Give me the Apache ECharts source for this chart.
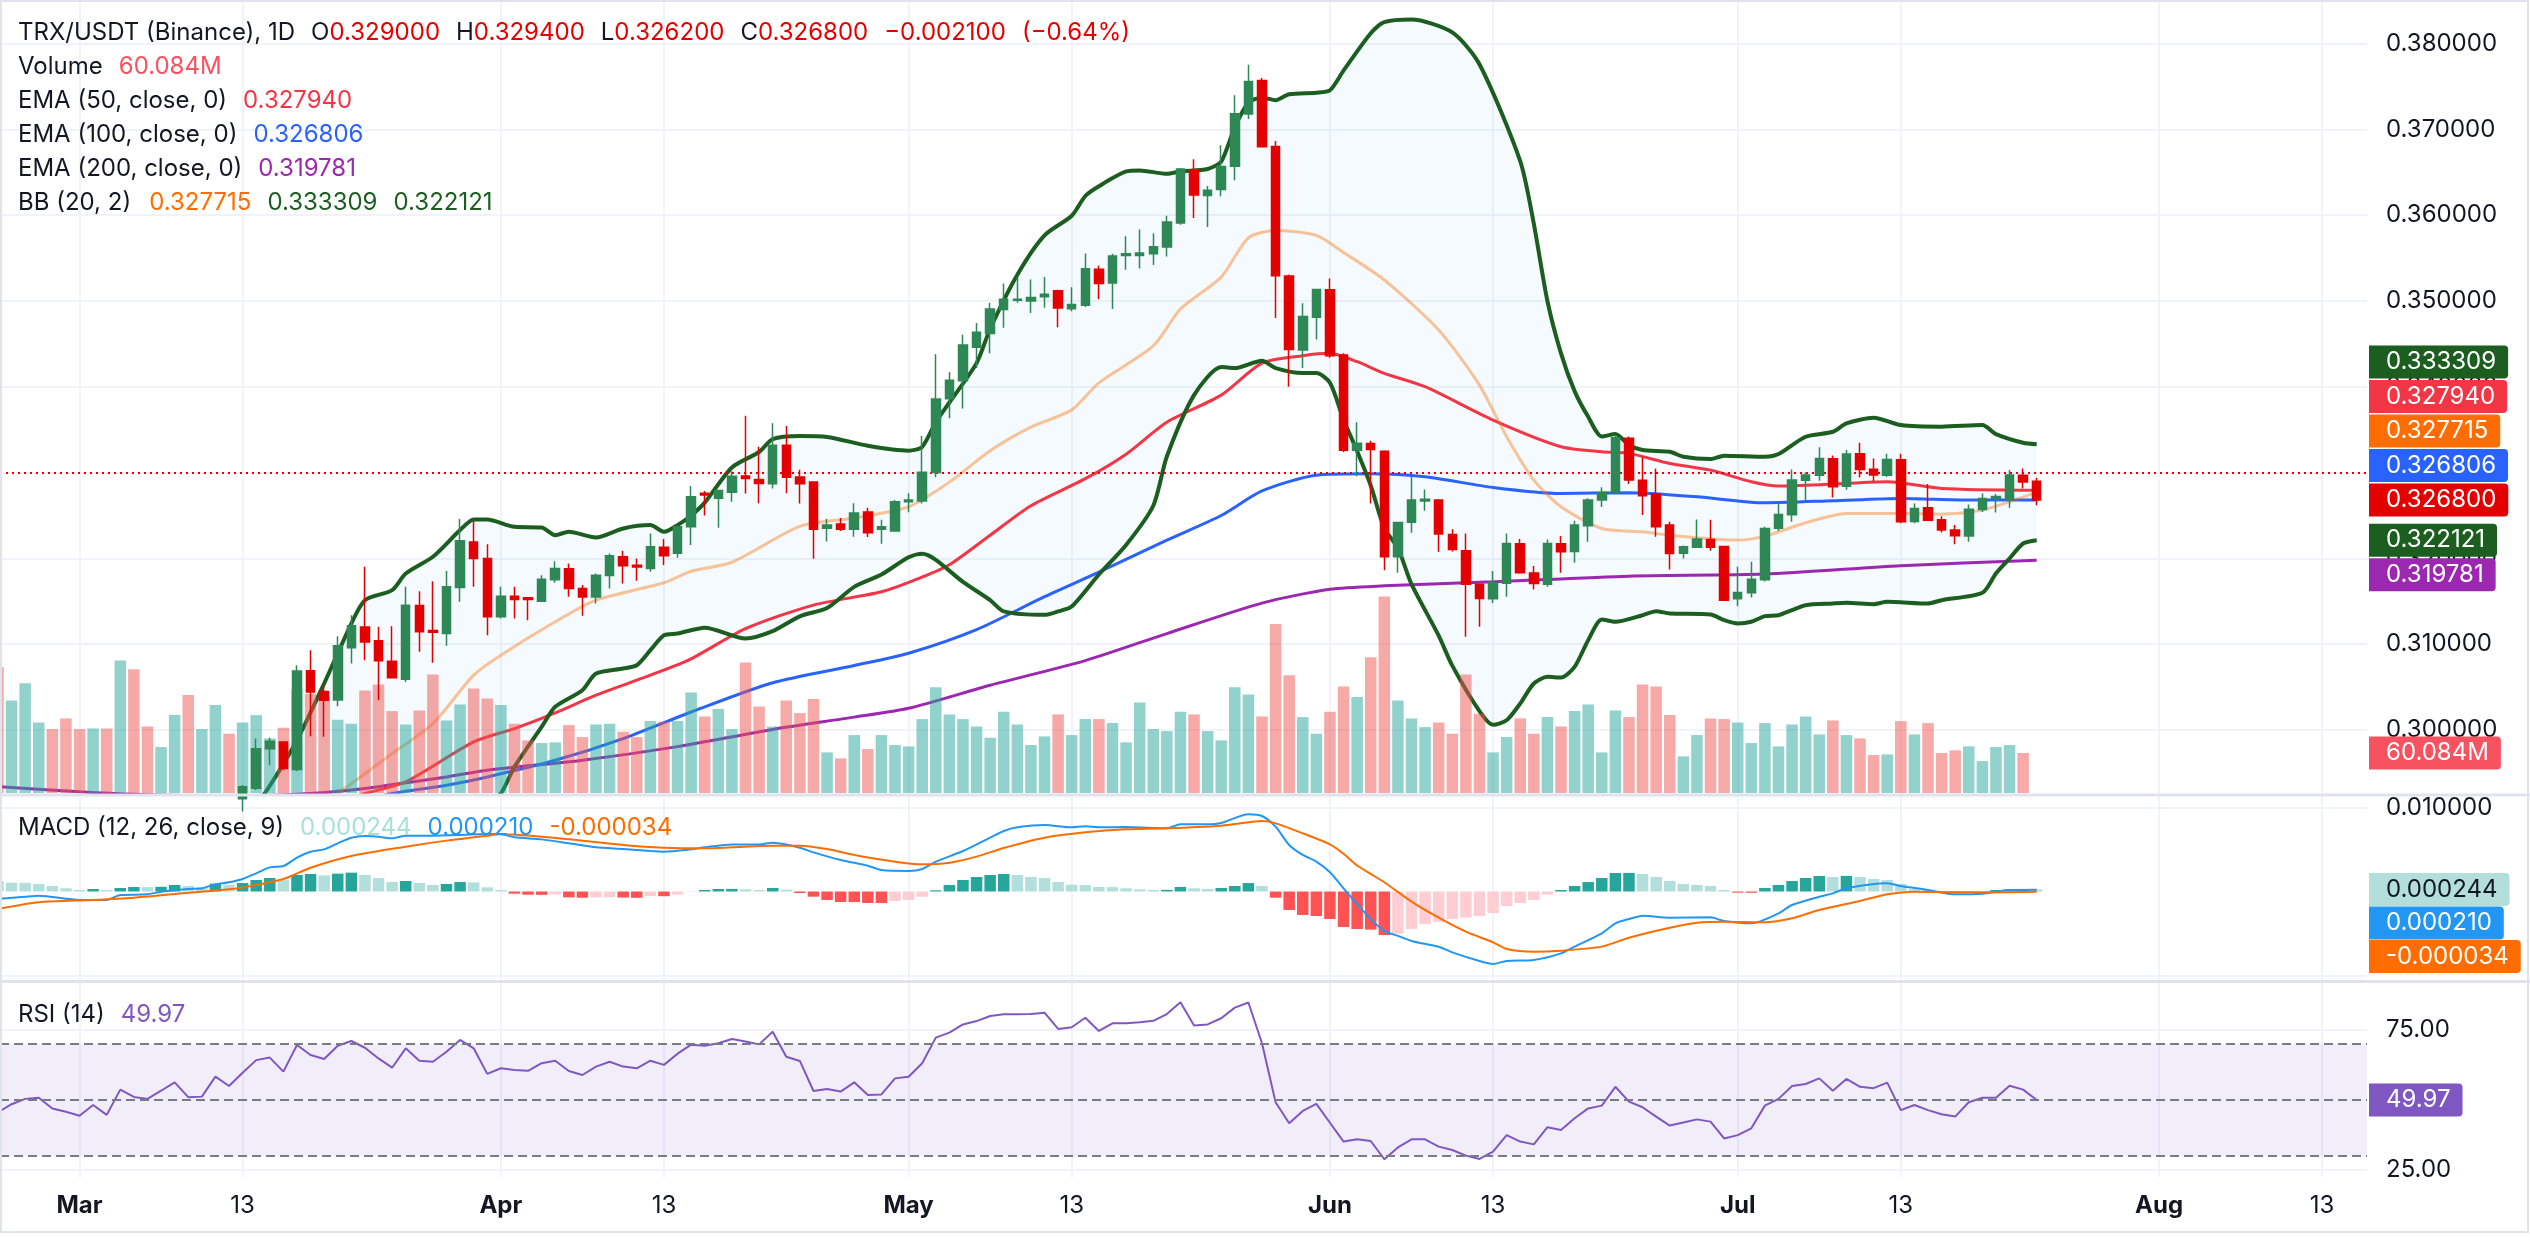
<!DOCTYPE html>
<html>
<head>
<meta charset="utf-8">
<title>TRX/USDT (Binance), 1D</title>
<script src="https://cdn.jsdelivr.net/npm/echarts@6/dist/echarts.min.js"></script>
<style>
html, body { margin: 0; background: #fff; }
#main { width: 2530px; height: 1253px; }
</style>
</head>
<body>
<div id="main"></div>
<script>
// day 0 = 1 Mar, data runs from 23 Feb (day -6) to 23 Jul (day 144)
var dayFirst = -6;
// candles before 13 Mar sit below the visible price range
var candleFirst = 12;

var opens = [
  .2920,.2932,.2978,.2986,.2954,.3069,.3045,.3035,.30958,.3120,
  .3104,.3080,.30592,.3145,.3116,.31125,.3166,.3219,.3200,.3132,
  .3156,.3154,.3150,.3175,.3188,.3165,.3155,.3180,.3202,.3192,
  .31883,.3213,.3206,.3237,.3276,.3270,.3277,.3296,.3292,.3287,
  .3332,.3295,.3289,.3235,.3240,.3234,.3254,.3234,.3232,.3266,
  .3267,.3300,.3386,.3407,.3446,.3462,.3490,.3501,.3500,.3505,
  .3512,.3491,.3495,.3537,.3521,.3553,.3553,.3555,.3563,.3591,
  .3653,.3623,.3630,.3657,.3718,.3757,.3680,.3529,.3443,.3481,
  .3513,.3437,.3326,.3334,.3325,.3202,.3242,.3267,.3268,.3228,
  .3209,.3170,.3153,.3171,.3217,.3183,.3170,.3217,.3208,.3238,
  .3268,.3277,.3340,.3291,.3275,.3239,.3206,.3213,.3222,.3214,
  .3153,.3160,.3175,.3235,.3251,.3291,.3297,.3316,.3284,.3322,
  .3304,.3297,.3315,.3243,.3259,.3245,.3233,.3226,.3257,.3270,
  .3268,.3297,.3290
];
var highs = [
  .2936,.2990,.2991,.2987,.30755,.3093,.30534,.31094,.31338,.31902,
  .31202,.3121,.31669,.31618,.31735,.31852,.32458,.32438,.32166,.31669,
  .3167,.3155,.31805,.31968,.3194,.3169,.31824,.32058,.32089,.31999,
  .32291,.32225,.3237,.32843,.32786,.3279,.33015,.33662,.33301,.33576,
  .33542,.33032,.3290,.32459,.3247,.32642,.3259,.3245,.3268,.3276,
  .33427,.34379,.34172,.34608,.34745,.3498,.35204,.35278,.3525,.3528,
  .3513,.3516,.35553,.3541,.3555,.35754,.35834,.3579,.35995,.3655,
  .36653,.3634,.36814,.37398,.37754,.3760,.36865,.3531,.34975,.3514,
  .35261,.3439,.33588,.3337,.3326,.3242,.32959,.32804,.3269,.32341,
  .32291,.3170,.31852,.32291,.32225,.3191,.3222,.3226,.32438,.3270,
  .3283,.33437,.3342,.33185,.33049,.32427,.3215,.32454,.3245,.3214,
  .31902,.3196,.3237,.32648,.33037,.3300,.33294,.3320,.33263,.33348,
  .33165,.3322,.3322,.3264,.32866,.3249,.32388,.32629,.32757,.3275,
  .33029,.33049,.3294
];
var lows = [
  .2905,.2930,.2959,.2953,.2952,.29927,.2992,.30277,.30775,.30814,
  .30347,.3060,.3056,.30911,.30783,.30981,.31494,.3167,.31105,.3130,
  .3130,.3128,.3150,.31716,.31552,.31331,.31474,.31649,.31708,.31739,
  .31844,.31922,.32007,.32155,.32499,.32356,.3266,.32757,.32643,.32814,
  .3276,.3264,.31995,.32196,.3232,.32253,.3225,.3217,.3232,.32539,
  .3264,.32946,.33634,.33748,.34218,.3439,.34688,.3498,.3486,.3492,
  .34694,.3488,.3493,.3502,.34906,.35364,.3538,.3542,.3552,.3589,
  .35966,.35863,.3622,.36407,.3712,.3680,.34803,.3400,.34218,.3455,
  .3434,.3324,.32958,.32641,.31863,.31832,.32299,.32555,.32077,.3208,
  .31086,.31202,.3148,.31552,.3182,.31638,.3167,.31832,.31949,.32194,
  .3260,.3276,.32866,.32505,.32252,.31871,.31999,.3212,.3209,.3151,
  .31443,.31544,.3173,.3232,.32427,.3268,.32905,.32711,.3280,.32944,
  .3290,.3295,.3241,.3241,.3244,.32302,.32166,.32194,.3254,.32536,
  .3259,.32816,.3262
];
var closes = [
  .2934,.2978,.2987,.2955,.30689,.30444,.30347,.30981,.31214,.31027,
  .30806,.30608,.31455,.31144,.3114,.31669,.32205,.31999,.31319,.3156,
  .3152,.3152,.31758,.31883,.31649,.3155,.31805,.3203,.31914,.3190,
  .32135,.3203,.32368,.32718,.3274,.3279,.32958,.3293,.32872,.33319,
  .32946,.3287,.32339,.3239,.3234,.32528,.32299,.3237,.3266,.3268,
  .33003,.33857,.34075,.34488,.34637,.34906,.3502,.3502,.3504,.3508,
  .34917,.3496,.35376,.35204,.35525,.3555,.3556,.35633,.3592,.36539,
  .36235,.3629,.36567,.37181,.37559,.36797,.35295,.34436,.3482,.35135,
  .34361,.33261,.33341,.3327,.32019,.32419,.3268,.3269,.32283,.32104,
  .3170,.31533,.31719,.32174,.31832,.31708,.32174,.32077,.32388,.3268,
  .32769,.33406,.32913,.3273,.32368,.32058,.32135,.32225,.3213,.31513,
  .31603,.31758,.32349,.32512,.32913,.32971,.33165,.32835,.33216,.33037,
  .32971,.33154,.32427,.32582,.32446,.3233,.32264,.32574,.32699,.3272,
  .32971,.3289,.3268
];

// volume in millions, from day -6 (the bars stop one day before the last candle)
var volumes = [
  189,139,165,106,96,112,96,97,97,199,
  186,100,69,117,147,96,132,89,106,117,
  82,98,155,149,144,110,104,154,163,123,
  103,124,178,109,133,157,142,132,104,79,
  75,76,102,84,103,104,92,84,108,107,
  108,151,115,126,96,196,130,100,139,120,
  141,61,52,87,66,87,72,70,111,159,
  118,111,100,83,122,103,72,85,118,87,
  111,111,105,76,136,96,93,122,118,93,
  79,159,148,115,254,177,114,89,122,160,
  144,204,295,139,112,99,106,89,178,119,
  61,84,112,89,114,100,123,133,61,124,
  114,163,160,117,55,87,112,111,106,75,
  105,70,103,115,88,109,87,82,57,58,
  108,88,105,60,64,70,48,69,72,60.084
];
// up/down colour of the volume bars whose candles are off screen (days -6..11)
var hiddenUp = [0,1,1,1,0,0,0,1,0,1,0,0,1,1,0,1,1,0];

var macdHist = [
  0.00125,0.00105,0.00104,0.0009,0.00066,0.00038,0.00018,0.0003,0.00018,0.00042,
  0.00054,0.00052,0.00056,0.00078,0.00066,0.0005,0.00093,0.00082,0.00101,0.00137,
  0.00161,0.00137,0.00197,0.00209,0.00193,0.00213,0.00225,0.00197,0.00161,0.00113,
  0.00125,0.00101,0.00078,0.0009,0.00113,0.00109,0.0005,0.00018,-0.00026,-0.00038,
  -0.0004,-0.00036,-0.0007,-0.00074,-0.0007,-0.00068,-0.00072,-0.00075,-0.00054,-0.00056,
  -0.00038,-0.00004,0.00018,0.0003,0.00031,0.00026,0.00018,0.00042,0.00022,-0.00018,
  -0.00062,-0.00101,-0.00125,-0.00126,-0.00137,-0.00138,-0.00113,-0.00101,-0.00062,0.00014,
  0.00078,0.00137,0.00173,0.00197,0.00209,0.00197,0.00173,0.00161,0.00113,0.00082,
  0.00077,0.00054,0.00052,0.00038,0.00026,0.00018,0.0002,0.00054,0.00038,0.0003,
  0.00042,0.00066,0.00101,0.00066,-0.00074,-0.00221,-0.0028,-0.00292,-0.00328,-0.00424,
  -0.00447,-0.00455,-0.00519,-0.00503,-0.00447,-0.00388,-0.00364,-0.00328,-0.00312,-0.00292,
  -0.00257,-0.00173,-0.00137,-0.00101,-0.00038,0.00018,0.00066,0.00113,0.00161,0.00221,
  0.00222,0.00209,0.00173,0.00125,0.0009,0.00078,0.00066,0.00018,-0.00014,-0.00015,
  0.00042,0.00078,0.00125,0.00161,0.00185,0.00173,0.00186,0.00173,0.00149,0.00137,
  0.0009,0.0003,0.00018,-0.0001,-0.00018,-0.0001,-0.00002,0.00018,0.00026,0.00028,
  0.000244
];

var rsi = [
  45.6,48.5,50.4,50.8,47.0,45.8,44.4,48.2,44.7,53.7,
  51.1,50.4,53.3,56.3,51.0,51.2,58.3,55.0,59.7,64.2,
  65.1,60.1,69.6,66.0,64.6,69.3,71.0,68.6,64.8,61.5,
  68.4,64.0,63.6,67.2,71.4,68.4,59.3,61.3,60.7,60.4,
  63.1,64.0,60.3,58.9,61.9,63.6,61.9,61.3,64.0,62.5,
  66.5,69.7,69.3,70.2,71.7,70.8,69.8,74.3,65.4,63.9,
  53.2,53.9,53.0,56.3,51.8,52.0,57.7,58.3,63.1,72.2,
  74.0,76.9,78.1,79.9,80.5,80.5,80.6,81.1,75.3,75.9,
  79.3,74.6,77.3,77.3,77.7,78.2,80.6,84.8,76.5,76.9,
  79.1,82.9,84.7,70.2,49.2,41.7,46.1,48.6,41.9,35.2,
  36.0,35.4,28.9,33.1,36.0,36.0,33.4,32.2,30.2,29.0,
  31.6,37.5,35.2,34.2,40.3,39.3,43.5,47.0,48.0,54.7,
  49.4,47.4,44.1,40.9,42.0,43.1,42.3,36.3,37.5,39.9,
  48.0,50.4,55.0,55.7,57.7,53.3,57.5,54.7,54.2,56.2,
  46.4,48.2,46.4,44.9,44.1,49.2,50.8,50.8,55.1,53.7,
  49.97
];

// indicator lines as [day, value]
var ema50 = [[19,0.2915],[21,0.2926],[24,0.29395],[29,0.29861],[32,0.30017],[35,0.302],[38,0.30406],[42,0.30639],[45,0.3083],[49,0.31181],[54,0.31456],[59,0.31611],[62,0.31783],[64,0.31926],[67,0.3227],[70,0.32614],[74,0.32929],[77,0.33215],[80,0.33588],[84,0.33903],[87,0.34276],[90,0.34362],[92,0.3439],[94,0.34293],[96,0.34157],[99,0.34001],[104,0.33612],[109,0.33301],[112,0.33243],[114,0.33224],[117,0.33107],[120,0.33029],[123,0.32893],[125,0.32843],[129,0.32866],[133,0.32893],[137,0.32816],[144,0.32794]];
var ema100 = [[21,0.2918],[23,0.2926],[27,0.29356],[30,0.29453],[35,0.29647],[40,0.299],[45,0.3021],[51,0.30551],[57,0.30752],[61,0.30895],[66,0.3117],[71,0.31554],[75,0.3184],[80,0.32213],[84,0.325],[87,0.32786],[91,0.32969],[95,0.32986],[99,0.32952],[104,0.32827],[109,0.32757],[114,0.32765],[119,0.32718],[124,0.32648],[129,0.32672],[134,0.32699],[139,0.3268],[144,0.326806]];
var ema200 = [[-6,0.2934],[0,0.2928],[4,0.2925],[10,0.2923],[16,0.2925],[20,0.293],[27,0.29453],[30,0.29531],[37,0.29647],[44,0.29806],[51,0.30007],[57,0.3015],[61,0.30253],[67,0.30522],[74,0.30809],[80,0.31124],[87,0.31479],[92,0.3164],[96,0.3168],[104,0.31727],[114,0.31793],[124,0.31817],[134,0.31914],[144,0.319781]];
var bbBasis = [[17,0.2905],[19,0.2926],[23,0.29725],[26,0.30075],[29,0.30639],[31,0.30872],[35,0.31261],[38,0.31513],[43,0.31716],[45,0.3185],[48,0.31955],[53,0.32373],[57,0.32471],[61,0.32602],[64,0.32889],[67,0.33256],[70,0.33531],[73,0.33731],[75,0.34046],[79,0.34476],[81,0.34906],[84,0.35278],[86,0.35737],[88,0.35823],[91,0.35765],[93,0.35565],[96,0.35245],[100,0.34662],[103,0.3402],[105,0.33418],[107,0.32913],[109,0.32602],[112,0.32349],[115,0.3231],[117,0.32271],[122,0.32213],[124,0.3226],[127,0.32415],[130,0.32524],[134,0.32524],[137,0.32516],[140,0.32563],[144,0.327715]];
var bbUpper = [[12,0.289],[14,0.2935],[16,0.29881],[18,0.30542],[20,0.31241],[21,0.31513],[23,0.3163],[24,0.31824],[26,0.32019],[28,0.3233],[29,0.32454],[30,0.32454],[32,0.32368],[34,0.32361],[35,0.32271],[36,0.3231],[38,0.32244],[40,0.32349],[42,0.32388],[43,0.3231],[44,0.32388],[45,0.325],[46,0.3265],[48,0.3306],[50,0.3324],[51,0.3339],[53,0.33427],[55,0.33416],[58,0.33313],[61,0.33256],[62,0.33301],[63,0.33588],[64,0.33817],[66,0.34276],[67,0.34677],[69,0.35307],[71,0.35765],[73,0.35994],[74,0.36224],[75,0.36338],[77,0.3651],[78,0.36522],[80,0.36482],[81,0.3651],[83,0.36539],[84,0.36625],[85,0.37026],[86,0.37312],[87,0.3737],[88,0.37341],[89,0.3741],[91,0.37427],[92,0.37456],[93,0.37685],[95,0.3812],[96,0.3825],[98,0.3828],[101,0.3813],[103,0.3776],[106,0.3663],[107,0.359],[108,0.35],[109,0.3439],[110,0.3395],[111,0.3365],[112,0.3342],[113,0.33449],[114,0.33321],[115,0.33263],[117,0.33243],[118,0.33185],[120,0.33158],[121,0.33197],[124,0.33185],[125,0.33216],[127,0.33418],[129,0.33476],[130,0.33573],[132,0.3364],[134,0.33554],[137,0.33535],[140,0.33554],[141,0.33449],[143,0.33348],[144,0.333309]];
var bbLower = [[30,0.2915],[31,0.2926],[32,0.2957],[34,0.30036],[35,0.3027],[37,0.30464],[38,0.30658],[40,0.30717],[41,0.30755],[42,0.3093],[43,0.31105],[44,0.31124],[46,0.31193],[49,0.31067],[51,0.31153],[53,0.31325],[55,0.31422],[57,0.31668],[59,0.31812],[61,0.32013],[62,0.32053],[63,0.31983],[65,0.31726],[67,0.31514],[68,0.31382],[71,0.31342],[72,0.31382],[73,0.31439],[75,0.31812],[77,0.32156],[79,0.32614],[80,0.33187],[82,0.33903],[84,0.3423],[85,0.34218],[87,0.34304],[88,0.34218],[90,0.3416],[91,0.3416],[92,0.34046],[93,0.33617],[94,0.3325],[95,0.3285],[96,0.3235],[97,0.3212],[98,0.317],[100,0.311],[101,0.3075],[103,0.3022],[104,0.3006],[105,0.30114],[106,0.30309],[107,0.30542],[108,0.3062],[109,0.30612],[110,0.30736],[111,0.31047],[112,0.31288],[113,0.31261],[115,0.31338],[116,0.31385],[117,0.31358],[120,0.31346],[121,0.3128],[122,0.31241],[123,0.31261],[124,0.31327],[125,0.31338],[126,0.31397],[127,0.31455],[129,0.31474],[130,0.31482],[132,0.31467],[133,0.31494],[136,0.31474],[137,0.31513],[140,0.31599],[141,0.31824],[142,0.31999],[143,0.32174],[144,0.322121]];
var macdLine = [[-6,-0.0009],[-4,-0.00062],[-3,-0.0005],[0,-0.00101],[2,-0.001],[3,-0.00042],[5,-0.00034],[6,-0.00002],[8,0.0003],[9,0.00038],[10,0.00086],[11,0.0011],[12,0.00149],[13,0.00217],[14,0.00288],[15,0.00304],[16,0.00404],[17,0.00475],[18,0.00503],[19,0.00575],[20,0.00642],[21,0.00662],[22,0.00654],[23,0.00634],[24,0.00666],[26,0.00666],[28,0.00674],[30,0.00686],[31,0.00686],[32,0.00646],[34,0.00622],[36,0.00575],[38,0.00527],[40,0.00507],[42,0.00483],[43,0.00475],[45,0.00503],[46,0.00527],[48,0.00562],[50,0.00562],[51,0.00583],[52,0.00562],[53,0.00523],[54,0.00467],[56,0.00376],[58,0.00308],[59,0.00256],[61,0.00245],[62,0.00268],[63,0.00356],[65,0.00483],[67,0.00642],[68,0.00722],[69,0.00766],[71,0.00794],[73,0.00766],[74,0.00778],[75,0.00766],[77,0.0077],[80,0.00754],[81,0.00802],[83,0.00802],[84,0.00817],[86,0.00921],[87,0.00901],[88,0.00774],[89,0.00555],[90,0.00436],[91,0.00356],[92,0.00229],[93,0.00038],[94,-0.0015],[95,-0.0033],[96,-0.0047],[97,-0.0053],[98,-0.0059],[100,-0.0066],[101,-0.00726],[103,-0.00829],[104,-0.00865],[105,-0.00829],[107,-0.00817],[109,-0.00738],[110,-0.00658],[112,-0.00499],[113,-0.0038],[114,-0.00328],[115,-0.00288],[117,-0.00312],[120,-0.00308],[121,-0.00352],[123,-0.0038],[125,-0.00261],[126,-0.00161],[128,-0.00062],[129,-0.00022],[130,0.00038],[133,0.00097],[134,0.00066],[136,0.00018],[138,-0.00034],[140,-0.00026],[142,0.00018],[144,0.00021]];
var signalLine = [[-6,-0.00209],[-3,-0.00129],[1,-0.00101],[4,-0.00074],[7,-0.0003],[11,0.00026],[13,0.00078],[15,0.00149],[17,0.00284],[20,0.00424],[24,0.00535],[27,0.00607],[30,0.00666],[31,0.00682],[34,0.00654],[37,0.00607],[40,0.00555],[43,0.00523],[46,0.00515],[48,0.00527],[51,0.00547],[53,0.00547],[55,0.00507],[57,0.00436],[60,0.00356],[62,0.00324],[64,0.00344],[66,0.00416],[68,0.0052],[71,0.00642],[74,0.00706],[77,0.00742],[80,0.00754],[84,0.00786],[86,0.00825],[87,0.00841],[88,0.00813],[90,0.00694],[92,0.00562],[93,0.0045],[94,0.0031],[95,0.0021],[96,0.0011],[98,-0.00121],[100,-0.00312],[102,-0.00479],[104,-0.00607],[105,-0.00686],[107,-0.00718],[109,-0.00706],[112,-0.00658],[114,-0.00551],[117,-0.00432],[119,-0.00372],[121,-0.0036],[124,-0.00368],[126,-0.0032],[128,-0.00221],[131,-0.00113],[133,-0.00034],[135,-0.00002],[138,-0.0001],[140,-0.0001],[144,-0.000034]];

var tickDays = [0, 12, 31, 43, 61, 73, 92, 104, 122, 134, 153, 165];
var tickLabels = ['Mar', '13', 'Apr', '13', 'May', '13', 'Jun', '13', 'Jul', '13', 'Aug', '13'];
var priceTicks = [0.30, 0.31, 0.32, 0.33, 0.34, 0.35, 0.36, 0.37, 0.38];
var macdTicks = [-0.01, 0.01];
var rsiTicks = [25, 75];

var FONT = 'Inter, "Noto Sans", sans-serif';
var FS = 24;
var INK = '#131722';
var UP = '#2E8856', DOWN = '#E50000';
var GRID_LINE = '#F0F3FA';
var X_MIN = -5.85, X_MAX = 168.3;
var PRICE_MIN = 0.292657, PRICE_MAX = 0.385082;

function lastOf(a) { return a[a.length - 1]; }
function isUp(day) {
    if (day < candleFirst) return hiddenUp[day - dayFirst] === 1;
    var k = day - candleFirst;
    return closes[k] >= opens[k];
}

var candleData = opens.map(function (o, k) {
    return [candleFirst + k, o, closes[k], lows[k], highs[k]];
});
var volumeData = volumes.map(function (v, i) {
    var d = dayFirst + i;
    return { value: [d, v], itemStyle: { color: isUp(d) ? 'rgba(38,166,154,0.5)' : 'rgba(239,83,80,0.5)' } };
});
var histData = macdHist.map(function (h, i) {
    var prev = i > 0 ? macdHist[i - 1] : h + 1;
    var c = h >= 0 ? (h > prev ? '#26A69A' : '#B2DFDB') : (h > prev ? '#FFCDD2' : '#FF5252');
    return { value: [dayFirst + i, h], itemStyle: { color: c } };
});
var rsiData = rsi.map(function (r, i) { return [dayFirst + i, r]; });

function xAxisFor(grid, labels) {
    return {
        type: 'value', gridIndex: grid, min: X_MIN, max: X_MAX,
        axisLine: { show: false },
        axisTick: { show: false, customValues: tickDays },
        splitLine: { show: true, lineStyle: { color: GRID_LINE, width: 2 } },
        axisLabel: labels ? {
            customValues: tickDays, margin: 17, color: INK, fontSize: FS, fontFamily: FONT,
            formatter: function (v) {
                var s = tickLabels[tickDays.indexOf(Math.round(v))] || '';
                return /^\d+$/.test(s) ? s : '{m|' + s + '}';
            },
            rich: { m: { fontWeight: 'bold', fontSize: FS, fontFamily: FONT, color: INK } }
        } : { show: false }
    };
}
function yAxisFor(grid, min, max, ticks, labelTicks, digits) {
    return {
        type: 'value', gridIndex: grid, position: 'right', min: min, max: max,
        axisLine: { show: false },
        axisTick: { show: false, customValues: ticks },
        splitLine: { show: true, lineStyle: { color: GRID_LINE, width: 2 } },
        axisLabel: {
            customValues: labelTicks, margin: 19, color: INK, fontSize: FS, fontFamily: FONT,
            formatter: function (v) { return v.toFixed(digits); }
        }
    };
}
function priceLine(data, color, width, z, opacity) {
    return {
        type: 'line', xAxisIndex: 0, yAxisIndex: 0, data: data, z: z,
        showSymbol: false, smooth: 0.25, silent: true,
        lineStyle: { color: color, width: width, opacity: opacity == null ? 1 : opacity }
    };
}

var chart = echarts.init(document.getElementById('main'));

var option = {
    animation: false,
    backgroundColor: '#fff',
    grid: [
        { left: 0, right: 163, top: 0, height: 793 },
        { left: 0, right: 163, top: 796, height: 184 },
        { left: 0, right: 163, top: 983, height: 194 }
    ],
    xAxis: [xAxisFor(0, false), xAxisFor(1, false), xAxisFor(2, true)],
    yAxis: [
        yAxisFor(0, PRICE_MIN, PRICE_MAX, priceTicks, priceTicks, 6),
        { type: 'value', gridIndex: 0, min: 0, max: 1191, show: false },
        yAxisFor(1, -0.010561, 0.011396, macdTicks, [0.01], 6),
        yAxisFor(2, 22.58, 91.66, rsiTicks, rsiTicks, 2)
    ],
    series: [
        {
            // Bollinger band background
            type: 'custom', xAxisIndex: 0, yAxisIndex: 0, z: 1, silent: true,
            data: [[bbUpper[0][0], bbUpper[0][1]]],
            renderItem: function (params, api) {
                var pts = bbUpper.map(function (p) { return api.coord(p); });
                var low = bbLower.slice().reverse().map(function (p) { return api.coord(p); });
                pts = pts.concat(low);
                pts.push(api.coord([bbLower[0][0], PRICE_MIN]));
                pts.push(api.coord([bbUpper[0][0], PRICE_MIN]));
                var cs = params.coordSys;
                pts = echarts.graphic.clipPointsByRect(pts, { x: cs.x, y: cs.y, width: cs.width, height: cs.height });
                return { type: 'polygon', shape: { points: pts }, style: { fill: 'rgba(33,150,243,0.05)' } };
            }
        },
        priceLine(ema200, '#9C27B0', 3, 2),
        priceLine(ema100, '#2962FF', 3, 2),
        priceLine(ema50, '#F23645', 3, 2),
        priceLine(bbBasis, '#FF6D00', 3, 2, 0.4),
        priceLine(bbUpper, '#1B5E20', 4, 2),
        priceLine(bbLower, '#1B5E20', 4, 2),
        {
            type: 'bar', xAxisIndex: 0, yAxisIndex: 1, data: volumeData, barWidth: 11.5, z: 3, silent: true
        },
        {
            type: 'candlestick', xAxisIndex: 0, yAxisIndex: 0, data: candleData, z: 5, silent: true,
            encode: { x: 0, y: [1, 2, 3, 4] },
            barWidth: 9,
            itemStyle: { color: UP, color0: DOWN, borderColor: UP, borderColor0: DOWN, borderWidth: 1.5 },
            markLine: {
                symbol: 'none', silent: true, label: { show: false },
                lineStyle: { color: DOWN, width: 2, type: [2, 4] },
                data: [{ yAxis: lastOf(closes) }]
            }
        },
        {
            type: 'bar', xAxisIndex: 1, yAxisIndex: 2, data: histData, barWidth: 11.5, silent: true
        },
        {
            type: 'line', xAxisIndex: 1, yAxisIndex: 2, data: macdLine, showSymbol: false, smooth: 0.25,
            silent: true, lineStyle: { color: '#2196F3', width: 2 }, z: 3
        },
        {
            type: 'line', xAxisIndex: 1, yAxisIndex: 2, data: signalLine, showSymbol: false, smooth: 0.25,
            silent: true, lineStyle: { color: '#FF6D00', width: 2 }, z: 3
        },
        {
            type: 'line', xAxisIndex: 2, yAxisIndex: 3, data: rsiData, showSymbol: false, silent: true,
            lineStyle: { color: '#7E57C2', width: 2 }, z: 3,
            markArea: {
                silent: true, itemStyle: { color: 'rgba(126,87,194,0.1)' },
                data: [[{ yAxis: 70 }, { yAxis: 30 }]]
            },
            markLine: {
                symbol: 'none', silent: true, label: { show: false },
                lineStyle: { color: '#787B86', width: 2, type: [9, 5] },
                data: [{ yAxis: 70 }, { yAxis: 50 }, { yAxis: 30 }]
            }
        }
    ]
};
chart.setOption(option);

// ---- legend texts and value tags on the price scales ----
var fmt6 = function (v) { return v.toFixed(6); };
var lastClose = lastOf(closes);
var prevClose = closes[closes.length - 2];
var change = lastClose - prevClose;
var changePct = change / prevClose * 100;
var minus = function (s) { return s.replace('-', '\u2212'); };

function legendRow(y, text, rich) {
    var base = {
        t: { fill: INK, fontSize: FS, fontFamily: FONT },
        k: { fill: INK, fontSize: FS, fontFamily: FONT, padding: [0, 0, 0, 16] }
    };
    for (var key in rich) base[key] = rich[key];
    return {
        type: 'text', x: 18, y: y, z: 60, silent: true,
        style: { text: text, rich: base, verticalAlign: 'middle', font: FS + 'px ' + FONT, fill: INK }
    };
}
function val(color, pad) {
    return { fill: color, fontSize: FS, fontFamily: FONT, padding: [0, 0, 0, pad == null ? 16 : pad] };
}

function tag(text, y, bg, fg) {
    return {
        type: 'text', x: 2369, y: y, z: 70, silent: true,
        style: {
            text: text, fill: fg || '#fff', font: FS + 'px ' + FONT, lineHeight: 23,
            backgroundColor: bg, padding: [5, 12, 5, 17], borderRadius: [0, 4, 4, 0],
            verticalAlign: 'middle'
        }
    };
}
// keep the anchor tag in place and push the others apart
function stackTags(items, gap) {
    var anchor = items[0];
    var above = items.filter(function (t) { return t !== anchor && t.y <= anchor.y; })
        .sort(function (a, b) { return b.y - a.y; });
    var lim = anchor.y;
    above.forEach(function (t) { t.y = Math.min(t.y, lim - gap); lim = t.y; });
    var below = items.filter(function (t) { return t !== anchor && t.y > anchor.y; })
        .sort(function (a, b) { return a.y - b.y; });
    lim = anchor.y;
    below.forEach(function (t) { t.y = Math.max(t.y, lim + gap); lim = t.y; });
}
function yPix(axis, v) { return chart.convertToPixel({ yAxisIndex: axis }, v); }

var priceTags = [
    { v: lastClose, bg: DOWN },
    { v: lastOf(ema50)[1], bg: '#F23645' },
    { v: lastOf(ema100)[1], bg: '#2962FF' },
    { v: lastOf(ema200)[1], bg: '#9C27B0' },
    { v: lastOf(bbBasis)[1], bg: '#FF6D00' },
    { v: lastOf(bbUpper)[1], bg: '#1B5E20' },
    { v: lastOf(bbLower)[1], bg: '#1B5E20' }
];
priceTags.forEach(function (t) { t.y = yPix(0, t.v); t.text = fmt6(t.v); });
stackTags(priceTags, 34.5);

var macdTags = [
    { v: lastOf(macdHist), bg: '#B2DFDB', fg: INK },
    { v: lastOf(macdLine)[1], bg: '#2196F3' },
    { v: lastOf(signalLine)[1], bg: '#FF6D00' }
];
macdTags.forEach(function (t) { t.y = yPix(2, t.v); t.text = fmt6(t.v); });
stackTags(macdTags, 33.5);

var lastVol = lastOf(volumes);
var lastRsi = lastOf(rsi);

var graphics = [
    { type: 'rect', z: 80, silent: true, shape: { x: 1, y: 1, width: 2527, height: 1231 },
      style: { fill: null, stroke: '#E0E3EB', lineWidth: 2 } },
    { type: 'line', z: 80, silent: true, shape: { x1: 0, y1: 795, x2: 2530, y2: 795 },
      style: { stroke: '#E0E3EB', lineWidth: 3 } },
    { type: 'line', z: 80, silent: true, shape: { x1: 0, y1: 981.5, x2: 2530, y2: 981.5 },
      style: { stroke: '#E0E3EB', lineWidth: 3 } },

    legendRow(33,
        '{t|TRX/USDT (Binance), 1D}{k|O}{v|' + fmt6(lastOf(opens)) + '}{k|H}{v|' + fmt6(lastOf(highs)) +
        '}{k|L}{v|' + fmt6(lastOf(lows)) + '}{k|C}{v|' + fmt6(lastClose) + '}{w|' +
        minus(change.toFixed(6)) + '}{w|(' + minus(changePct.toFixed(2)) + '%)}',
        { v: val(DOWN, 0), w: val(DOWN, 16) }),
    legendRow(67, '{t|Volume}{a|' + lastVol.toFixed(3) + 'M}', { a: val('#F7525F') }),
    legendRow(101, '{t|EMA (50, close, 0)}{a|' + fmt6(lastOf(ema50)[1]) + '}', { a: val('#F23645') }),
    legendRow(135, '{t|EMA (100, close, 0)}{a|' + fmt6(lastOf(ema100)[1]) + '}', { a: val('#2962FF') }),
    legendRow(169, '{t|EMA (200, close, 0)}{a|' + fmt6(lastOf(ema200)[1]) + '}', { a: val('#9C27B0') }),
    legendRow(203, '{t|BB (20, 2)}{a|' + fmt6(lastOf(bbBasis)[1]) + '}{b|' + fmt6(lastOf(bbUpper)[1]) +
        '}{b|' + fmt6(lastOf(bbLower)[1]) + '}', { a: val('#FF6D00', 18), b: val('#1B5E20') }),
    legendRow(828, '{t|MACD (12, 26, close, 9)}{a|' + fmt6(lastOf(macdHist)) + '}{b|' +
        fmt6(lastOf(macdLine)[1]) + '}{c|' + fmt6(lastOf(signalLine)[1]) + '}',
        { a: val('#A8DFD6'), b: val('#2196F3'), c: val('#FF6D00') }),
    legendRow(1015, '{t|RSI (14)}{a|' + lastRsi.toFixed(2) + '}', { a: val('#7E57C2') })
];
priceTags.forEach(function (t) { graphics.push(tag(t.text, t.y, t.bg)); });
macdTags.forEach(function (t) { graphics.push(tag(t.text, t.y, t.bg, t.fg)); });
graphics.push(tag(lastVol.toFixed(3) + 'M', yPix(1, lastVol), '#F7525F'));
graphics.push(tag(lastRsi.toFixed(2), yPix(3, lastRsi), '#7E57C2'));

chart.setOption({ graphic: graphics });
</script>
</body>
</html>
